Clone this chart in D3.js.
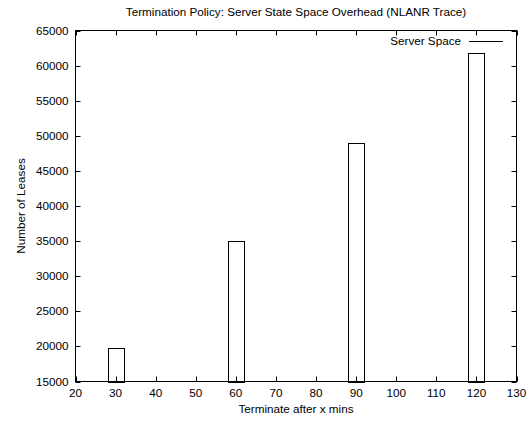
<!DOCTYPE html>
<html><head><meta charset="utf-8">
<script src="https://cdn.jsdelivr.net/npm/d3@7"></script>
<style>body{margin:0;background:#fff}svg text{font-family:"Liberation Sans",Arial,sans-serif;fill:#000}</style>
</head><body><svg id="c" width="529" height="423"></svg>
<script>
const categories = [30, 60, 90, 120];
const serverSpace = [19800, 35000, 48950, 61750];
const xTicks = [20,30,40,50,60,70,80,90,100,110,120,130];
const yTicks = [15000,20000,25000,30000,35000,40000,45000,50000,55000,60000,65000];
const barHalfWidth = 2;

const svg = d3.select("#c");
const L = 75.5, R = 516.5, T = 30.5, B = 381.5;
const x = d3.scaleLinear().domain([20,130]).range([L,R]);
const y = d3.scaleLinear().domain([15000,65000]).range([B,T]);
const tl = 5;
const fs = 11.7;

const g = svg.append("g");
xTicks.forEach(t=>{
  const px = Math.round(x(t))+0.5;
  g.append("line").attr("x1",px).attr("x2",px).attr("y1",B).attr("y2",B-tl).attr("stroke","#000");
  g.append("line").attr("x1",px).attr("x2",px).attr("y1",T).attr("y2",T+tl).attr("stroke","#000");
  g.append("text").attr("x",x(t)).attr("y",B+15).attr("text-anchor","middle").attr("font-size",fs).text(t);
});
yTicks.forEach(t=>{
  const py = Math.round(y(t))+0.5;
  g.append("line").attr("x1",L).attr("x2",L+tl).attr("y1",py).attr("y2",py).attr("stroke","#000");
  g.append("line").attr("x1",R).attr("x2",R-tl).attr("y1",py).attr("y2",py).attr("stroke","#000");
  g.append("text").attr("x",L-7).attr("y",y(t)+4).attr("text-anchor","end").attr("font-size",fs).text(t);
});
g.selectAll("rect.bar").data(categories).enter().append("rect")
  .attr("x",(d)=>Math.round(x(d-barHalfWidth))+0.5)
  .attr("width",(d)=>Math.round(x(d+barHalfWidth))-Math.round(x(d-barHalfWidth)))
  .attr("y",(d,i)=>Math.round(y(serverSpace[i]))+0.5)
  .attr("height",(d,i)=>Math.round(B)-Math.round(y(serverSpace[i])))
  .attr("fill","none").attr("stroke","#000").attr("stroke-width",1);
g.append("rect").attr("x",L).attr("y",T).attr("width",R-L).attr("height",B-T)
  .attr("fill","none").attr("stroke","#000");
g.append("text").attr("x",461).attr("y",45).attr("text-anchor","end").attr("font-size",fs).text("Server Space");
g.append("line").attr("x1",469).attr("x2",503).attr("y1",41.5).attr("y2",41.5).attr("stroke","#000");
svg.append("text").attr("x",(L+R)/2).attr("y",16).attr("text-anchor","middle").attr("font-size",fs)
  .text("Termination Policy: Server State Space Overhead (NLANR Trace)");
svg.append("text").attr("x",(L+R)/2).attr("y",413).attr("text-anchor","middle").attr("font-size",fs)
  .text("Terminate after x mins");
svg.append("text").attr("transform",`translate(25,${(T+B)/2}) rotate(-90)`).attr("text-anchor","middle").attr("font-size",fs)
  .text("Number of Leases");
</script></body></html>
